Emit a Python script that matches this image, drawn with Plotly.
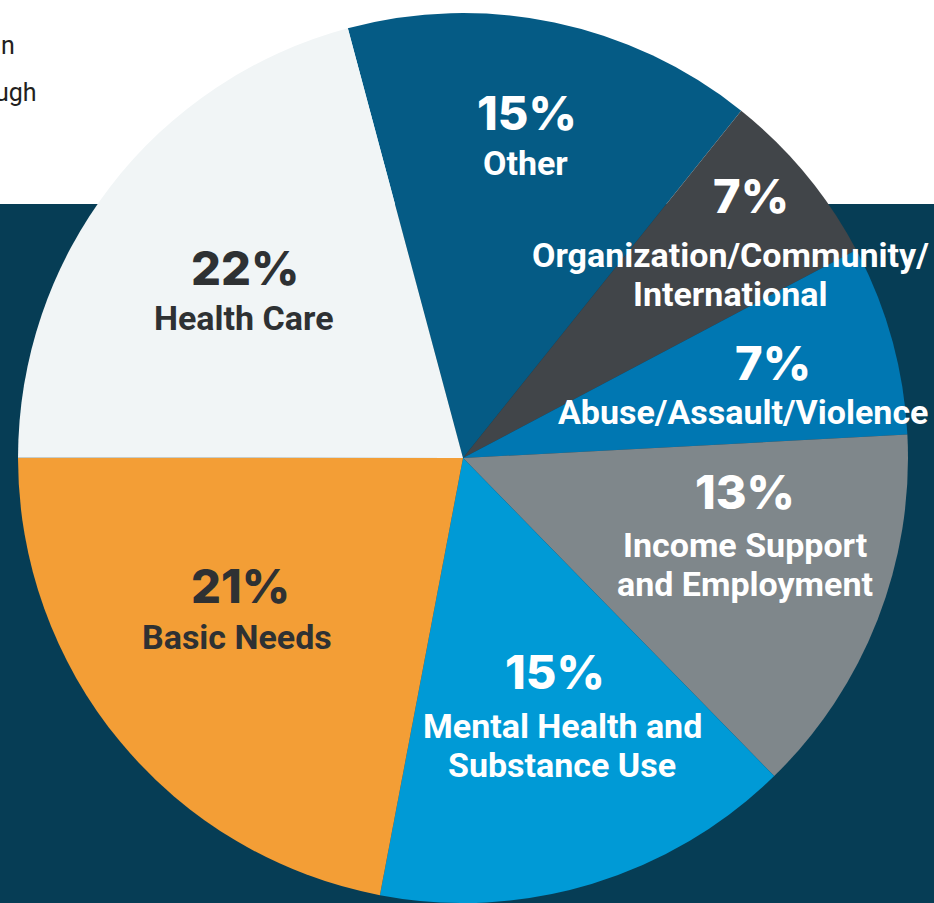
import plotly.graph_objects as go

# ---- data ----
categories = ["Other", "Organization/Community/International", "Abuse/Assault/Violence",
              "Income Support and Employment", "Mental Health and Substance Use",
              "Basic Needs", "Health Care"]
# slice sizes as drawn (percent of the circle)
shares = [14.9, 6.5, 6.9, 13.5, 15.3, 22.0, 20.8]
# printed percentage labels
pct_labels = ["15%", "7%", "7%", "13%", "15%", "21%", "22%"]
# printed category labels (line-broken as in the picture)
name_lines = [["Other"], ["Organization/Community/", "International"], ["Abuse/Assault/Violence"],
              ["Income Support", "and Employment"], ["Mental Health and", "Substance Use"],
              ["Basic Needs"], ["Health Care"]]

# ---- styles ----
colors = ["#055B85", "#414549", "#0077B2", "#7F878B", "#009AD6", "#F39E36", "#F1F5F6"]
text_colors = ["white", "white", "white", "white", "white", "#2E3133", "#2E3133"]
# label anchor positions in pixels (percent centre, then first name line centre)
pct_pos = [(527, 112), (751, 196), (773, 362), (745, 491), (555, 671), (240, 585), (245, 267)]
name_pos = [(525, 163), (730, 255), (743, 412), (745, 545), (562, 726), (237, 637), (244, 318)]
line_gap = 39

W, H = 934, 903
cx, cy, r = 463, 458, 445

fig = go.Figure(go.Pie(
    labels=categories, values=shares, sort=False, direction="clockwise", rotation=-15,
    marker=dict(colors=colors, line=dict(width=0)), textinfo="none", hoverinfo="label+percent",
    showlegend=False,
    domain=dict(x=[(cx - r) / W, (cx + r) / W], y=[(H - cy - r) / H, (H - cy + r) / H]),
))

def px(x, y):
    return x / W, 1 - y / H

ann = []
for i in range(len(categories)):
    x, y = px(*pct_pos[i])
    ann.append(dict(x=x, y=y, xref="paper", yref="paper", text=pct_labels[i], showarrow=False,
                    xanchor="center", yanchor="middle",
                    font=dict(family="Inter", size=47, color=text_colors[i], weight=800)))
    for j, line in enumerate(name_lines[i]):
        x, y = px(name_pos[i][0], name_pos[i][1] + j * line_gap)
        ann.append(dict(x=x, y=y, xref="paper", yref="paper", text=line, showarrow=False,
                        xanchor="center", yanchor="middle",
                        font=dict(family="Roboto", size=34, color=text_colors[i], weight="bold")))

# text fragments at top-left of the picture
for t, (x0, y0) in zip(["n", "ugh"], [(17, 46), (39, 92)]):
    x, y = px(x0, y0)
    ann.append(dict(x=x, y=y, xref="paper", yref="paper", text=t, showarrow=False,
                    xanchor="right", yanchor="middle",
                    font=dict(family="Roboto", size=25, color="#231F20")))

fig.update_layout(
    width=W, height=H, margin=dict(l=0, r=0, t=0, b=0),
    paper_bgcolor="white", plot_bgcolor="white",
    shapes=[dict(type="rect", xref="paper", yref="paper", x0=0, x1=1, y0=0, y1=1 - 204 / H,
                 fillcolor="#063D55", line=dict(width=0), layer="below")],
    annotations=ann,
)

fig.write_html("out.html")
